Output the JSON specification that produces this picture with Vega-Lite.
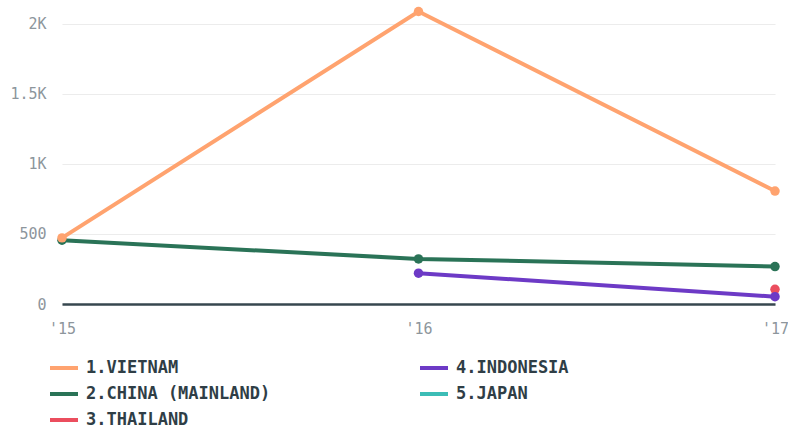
{
  "$schema": "https://vega.github.io/schema/vega-lite/v6.json",
  "width": 713,
  "height": 304,
  "autosize": {"type": "none"},
  "padding": {"left": 62, "top": 0, "right": 13, "bottom": 126},
  "background": "white",
  "config": {"view": {"stroke": null}},
  "data": {
    "values": [
      {"country": "2.CHINA (MAINLAND)", "year": "'15", "value": 455},
      {"country": "2.CHINA (MAINLAND)", "year": "'16", "value": 322},
      {"country": "2.CHINA (MAINLAND)", "year": "'17", "value": 267},
      {"country": "3.THAILAND", "year": "'17", "value": 105},
      {"country": "4.INDONESIA", "year": "'16", "value": 220},
      {"country": "4.INDONESIA", "year": "'17", "value": 52},
      {"country": "1.VIETNAM", "year": "'15", "value": 472},
      {"country": "1.VIETNAM", "year": "'16", "value": 2088},
      {"country": "1.VIETNAM", "year": "'17", "value": 806}
    ]
  },
  "encoding": {
    "x": {
      "field": "year", "type": "ordinal",
      "scale": {"type": "point", "padding": 0, "domain": ["'15", "'16", "'17"]},
      "axis": {
        "title": null, "ticks": false, "grid": false,
        "domain": true, "domainColor": "#37474f", "domainWidth": 2.5,
        "labelAngle": 0, "labelColor": "#8d969c", "labelFont": "DejaVu Sans Mono",
        "labelFontSize": 15, "labelPadding": 17
      }
    },
    "y": {
      "field": "value", "type": "quantitative",
      "scale": {"domain": [0, 2170], "nice": false, "zero": true},
      "axis": {
        "title": null, "ticks": false, "domain": false,
        "values": [0, 500, 1000, 1500, 2000],
        "gridColor": "#ececec", "gridWidth": 1.2,
        "labelColor": "#8d969c", "labelFont": "DejaVu Sans Mono", "labelFontSize": 15,
        "labelPadding": 16,
        "labelExpr": "datum.value >= 1000 ? format(datum.value/1000, '~g') + 'K' : format(datum.value, 'd')"
      }
    },
    "color": {
      "field": "country", "type": "nominal",
      "scale": {
        "domain": ["1.VIETNAM", "2.CHINA (MAINLAND)", "3.THAILAND", "4.INDONESIA", "5.JAPAN"],
        "range": ["#ffa36f", "#2a7357", "#eb4e5e", "#6d3ac6", "#3cbdb6"]
      },
      "legend": {
        "title": null, "orient": "none", "legendX": -14, "legendY": 352,
        "columns": 2, "columnPadding": 141, "rowPadding": 2,
        "symbolType": "stroke", "symbolStrokeWidth": 4, "symbolSize": 784,
        "labelFont": "DejaVu Sans Mono", "labelFontWeight": "bold", "labelFontSize": 17,
        "labelColor": "#2f3e46", "labelOffset": 6, "labelLimit": 400
      }
    }
  },
  "layer": [
    {"mark": {"type": "line", "strokeWidth": 4}},
    {"mark": {"type": "point", "filled": true, "size": 90, "opacity": 1}}
  ]
}
